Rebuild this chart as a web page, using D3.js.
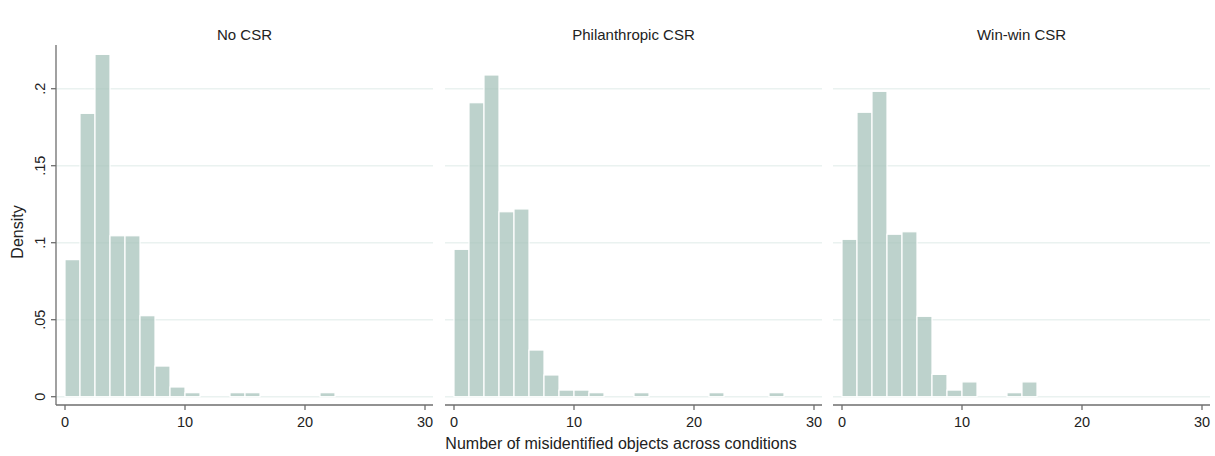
<!DOCTYPE html>
<html>
<head>
<meta charset="utf-8">
<script src="https://d3js.org/d3.v7.min.js"></script>
<style>
  body { margin: 0; background: #fff; }
  text { font-family: "Liberation Sans", Arial, sans-serif; fill: #222; }
</style>
</head>
<body>
<div id="chart"></div>
<script>
    // histogram densities, 24 bins of width 1.25 from 0 to 30
    var binStart = 0, binWidth = 1.25;
    var panels = ["No CSR", "Philanthropic CSR", "Win-win CSR"];
    var noCsr = [0.089, 0.184, 0.2223, 0.1045, 0.1045, 0.0526, 0.0199, 0.0063, 0.0026, 0, 0, 0.0026,
        0.0026, 0, 0, 0, 0, 0.0026, 0, 0, 0, 0, 0, 0];
    var philanthropic = [0.0957, 0.1909, 0.2089, 0.1201, 0.1219, 0.0303, 0.0141, 0.0043, 0.0043, 0.0026, 0, 0,
        0.0026, 0, 0, 0, 0, 0.0026, 0, 0, 0, 0.0026, 0, 0];
    var winWin = [0.1022, 0.1847, 0.1983, 0.1055, 0.1071, 0.0522, 0.0145, 0.0043, 0.0096, 0, 0, 0.0026,
        0.0096, 0, 0, 0, 0, 0, 0, 0, 0, 0, 0, 0];
    var series = [noCsr, philanthropic, winWin];
    var xTicks = [0, 10, 20, 30];
    var yTicks = [0, 0.05, 0.1, 0.15, 0.2];
    var yTickLabels = ["0", ".05", ".1", ".15", ".2"];
    var xTitle = "Number of misidentified objects across conditions";
    var yTitle = "Density";

    var width = 1215, height = 456;
    var panelLeft = [56, 445, 833], panelWidth = 377;
    var plotTop = 45, axisY = 405;

    var svg = d3.select("#chart").append("svg")
        .attr("width", width)
        .attr("height", height);

    var y = d3.scaleLinear().domain([0, 0.2]).range([396.7, 88.7]);

    panels.forEach(function (name, p) {
        var left = panelLeft[p];
        var x = d3.scaleLinear().domain([0, 30]).range([left + 9, left + 369]);
        var g = svg.append("g");

        // gridlines
        g.selectAll(".grid")
            .data(yTicks)
            .enter().append("line")
            .attr("x1", left).attr("x2", left + panelWidth)
            .attr("y1", function (d) { return y(d); })
            .attr("y2", function (d) { return y(d); })
            .attr("stroke", "#eaf2f0")
            .attr("stroke-width", 1.5);

        // bars
        var bins = series[p].map(function (v, i) {
            return { x0: binStart + i * binWidth, x1: binStart + (i + 1) * binWidth, v: v };
        }).filter(function (d) { return d.v > 0; });

        g.selectAll(".bar")
            .data(bins)
            .enter().append("rect")
            .attr("x", function (d) { return x(d.x0); })
            .attr("width", function (d) { return x(d.x1) - x(d.x0); })
            .attr("y", function (d) { return y(d.v); })
            .attr("height", function (d) { return y(0) - y(d.v); })
            .attr("fill", "#a7c3bb")
            .attr("fill-opacity", 0.75)
            .attr("stroke", "#fff")
            .attr("stroke-width", 1.2);

        // x axis
        var xa = g.append("g").attr("transform", "translate(0," + axisY + ")");
        xa.append("line")
            .attr("x1", left).attr("x2", left + panelWidth)
            .attr("stroke", "#6e6e6e").attr("stroke-width", 1.3);
        xa.selectAll(".tick")
            .data(xTicks)
            .enter().append("line")
            .attr("x1", function (d) { return x(d); })
            .attr("x2", function (d) { return x(d); })
            .attr("y1", 0).attr("y2", 5)
            .attr("stroke", "#6e6e6e").attr("stroke-width", 1.3);
        xa.selectAll(".lbl")
            .data(xTicks)
            .enter().append("text")
            .attr("x", function (d) { return x(d); })
            .attr("y", 22)
            .attr("text-anchor", "middle")
            .style("font-size", "14.5px")
            .text(function (d) { return d; });

        // panel title
        g.append("text")
            .attr("x", left + panelWidth / 2)
            .attr("y", 40)
            .attr("text-anchor", "middle")
            .style("font-size", "15px")
            .text(name);

        if (p === 0) {
            g.append("line")
                .attr("x1", left).attr("x2", left)
                .attr("y1", plotTop).attr("y2", axisY)
                .attr("stroke", "#6e6e6e").attr("stroke-width", 1.3);
            g.selectAll(".ytick")
                .data(yTicks)
                .enter().append("line")
                .attr("x1", left - 5).attr("x2", left)
                .attr("y1", function (d) { return y(d); })
                .attr("y2", function (d) { return y(d); })
                .attr("stroke", "#6e6e6e").attr("stroke-width", 1.3);
            g.selectAll(".ylbl")
                .data(yTicks)
                .enter().append("text")
                .attr("transform", function (d) { return "translate(45," + y(d) + ") rotate(-90)"; })
                .attr("text-anchor", "middle")
                .style("font-size", "14.5px")
                .text(function (d, i) { return yTickLabels[i]; });
            g.append("text")
                .attr("transform", "translate(23,232) rotate(-90)")
                .attr("text-anchor", "middle")
                .style("font-size", "16px")
                .text(yTitle);
        }
    });

    svg.append("text")
        .attr("x", 621)
        .attr("y", 449)
        .attr("text-anchor", "middle")
        .style("font-size", "16px")
        .text(xTitle);
</script>
</body>
</html>
